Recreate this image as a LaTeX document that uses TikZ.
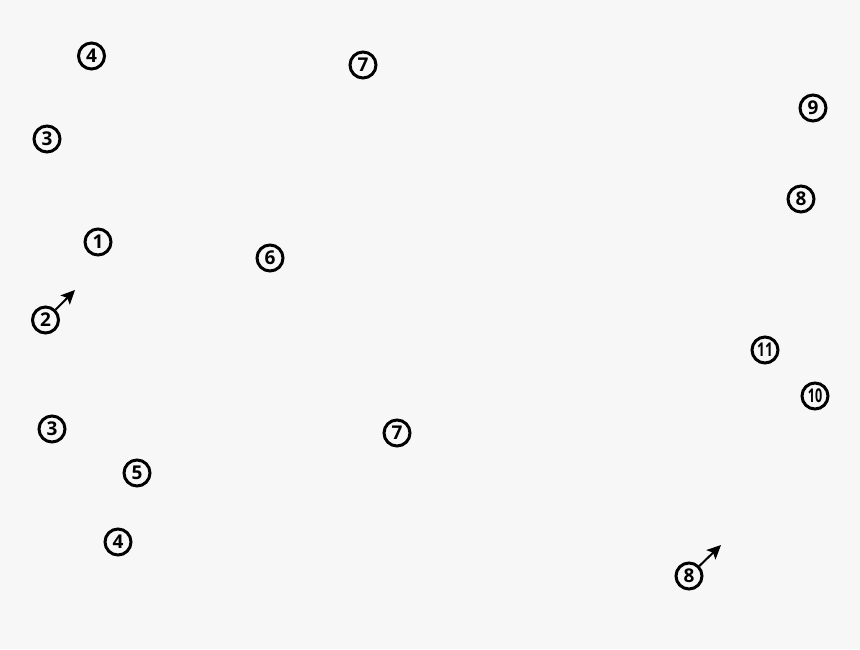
\documentclass[tikz,border=0pt]{standalone}
\usepackage{fontspec}
\setsansfont{Open Sans}
\usetikzlibrary{arrows.meta}
\definecolor{bg}{HTML}{F7F7F7}
\tikzset{
  num/.style={circle,draw,line width=3pt,inner sep=0pt,minimum size=26pt,
    font=\sffamily\bfseries\fontsize{19}{19}\selectfont},
  numtwo/.style={num,font=\sffamily\bfseries\fontsize{19}{19}\selectfont},
  arr/.style={-{Stealth[length=14pt,width=13pt,inset=3pt]},line width=2pt}
}
\begin{document}
\begin{tikzpicture}[x=1pt,y=-1pt]
\fill[bg] (0,0) rectangle (860,649);
\useasboundingbox (0,0) rectangle (860,649);
\node[num] (a4) at (91.5,56) {4};
\node[num] (a7) at (363,65) {7};
\node[num] (a9) at (813,108) {9};
\node[num] (a3) at (47,139) {3};
\node[num] (a8) at (801,199) {8};
\node[num] (a1) at (98,242) {1};
\node[num] (a6) at (270,258) {6};
\node[num] (a2) at (45.5,320) {2};
\node[numtwo] (a11) at (765,350) {\scalebox{0.72}[1]{11}};
\node[numtwo] (a10) at (815,396) {\scalebox{0.66}[1]{10}};
\node[num] (b3) at (52,429) {3};
\node[num] (b7) at (397,433) {7};
\node[num] (a5) at (137,473) {5};
\node[num] (b4) at (118,542) {4};
\node[num] (b8) at (689,576) {8};
\coordinate (t2) at (75,290);
\coordinate (t8) at (721,545);
\draw[arr] (a2) -- (t2);
\draw[arr] (b8) -- (t8);
\end{tikzpicture}
\end{document}
